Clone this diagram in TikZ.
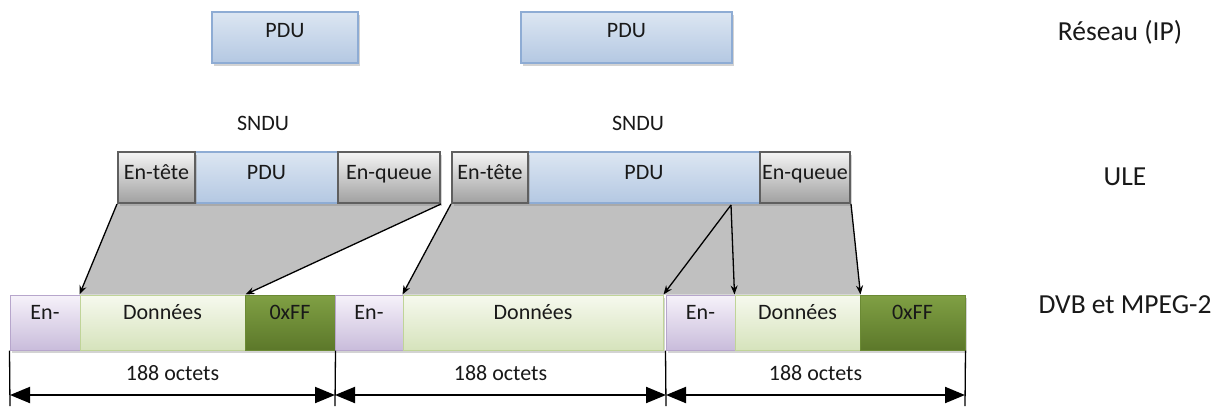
\documentclass[tikz,border=0pt]{standalone}
\usepackage{fontspec}
\setmainfont{Carlito}
\usetikzlibrary{arrows.meta,shadows,backgrounds}

\definecolor{pduTop}{HTML}{DCE6F2}
\definecolor{pduBot}{HTML}{B4C8E2}
\definecolor{pduLine}{HTML}{8EACD4}
\definecolor{hdrTop}{HTML}{F4F4F4}
\definecolor{hdrBot}{HTML}{A0A0A0}
\definecolor{hdrLine}{HTML}{5F5F5F}
\definecolor{enTop}{HTML}{F6F2FA}
\definecolor{enBot}{HTML}{C9BCDB}
\definecolor{enLine}{HTML}{B7A6CC}
\definecolor{donTop}{HTML}{F6F9EE}
\definecolor{donBot}{HTML}{D6E3BC}
\definecolor{donLine}{HTML}{C0D498}
\definecolor{ffTop}{HTML}{80A044}
\definecolor{ffBot}{HTML}{5C782A}
\definecolor{ffLine}{HTML}{6B8A34}
\definecolor{zone}{HTML}{C0C0C0}

\tikzset{
  box/.style={rectangle, inner sep=0pt, font=\fontsize{22}{26}\selectfont, text=black!90,
    drop shadow={shadow xshift=2pt, shadow yshift=-3pt, opacity=0.35}},
  pduTopBox/.style={box, line width=1.3pt, draw=pduLine, top color=pduTop, bottom color=pduBot,
    minimum height=51pt, text height=15pt, text depth=16pt},
  uleRow/.style={minimum height=51pt, text height=15pt, text depth=12pt},
  pduBox/.style={box, uleRow, line width=1.3pt, draw=pduLine, top color=pduTop, bottom color=pduBot},
  hdrBox/.style={box, uleRow, line width=2pt, draw=hdrLine, top color=hdrTop, bottom color=hdrBot},
  dvbRow/.style={minimum height=55pt, text height=15pt, text depth=22pt},
  enBox/.style={box, dvbRow, line width=1pt, draw=enLine, top color=enTop, bottom color=enBot},
  donBox/.style={box, dvbRow, line width=1pt, draw=donLine, top color=donTop, bottom color=donBot},
  ffBox/.style={box, dvbRow, line width=1pt, draw=ffLine, top color=ffTop, bottom color=ffBot},
  caption/.style={inner sep=0pt, font=\fontsize{22}{26}\selectfont, text=black!90},
  layer/.style={inner sep=0pt, font=\fontsize{27.5}{32}\selectfont, text=black!90},
  link/.style={line width=1.3pt, -{Stealth[length=9pt,width=7pt]}},
  dim/.style={line width=2pt, {Triangle[length=20pt,width=16pt]}-{Triangle[length=20pt,width=16pt]}},
  tick/.style={line width=1.3pt}
}

\begin{document}
\begin{tikzpicture}[x=1pt, y=-1pt]
\useasboundingbox (0,0) rectangle (1224,408);
%%%%%%%%%%%%%%%%%%%%%%%%%%%%%%% IP
\node[pduTopBox, minimum width=146pt](pduTopA) at (285,37.5){PDU};
\node[pduTopBox, minimum width=211pt](pduTopB) at (626.5,37.5){PDU};
\node[layer](reseau) at (1120,32){Réseau (IP)};

%%%%%%%%%%%%%%%%%%%%%%%%%%%%%%% ULE
\node[caption](sndu1) at (263,123){SNDU};
\node[caption](sndu2) at (638,123){SNDU};
\node[pduBox, minimum width=143pt](pduA) at (266.5,177.5){PDU};
\node[hdrBox, minimum width=77pt](enteteA) at (156.5,177.5){En-tête};
\node[hdrBox, minimum width=102pt](queueA) at (389,177.5){En-queue};
\node[pduBox, minimum width=232pt](pduB) at (644,177.5){PDU};
\node[hdrBox, minimum width=76pt](enteteB) at (490,177.5){En-tête};
\node[hdrBox, minimum width=90pt](queueB) at (805,177.5){En-queue};
\node[layer](ule) at (1125,177){ULE};

%%%%%%%%%%%%%%%%%%%%%%%%%%%%%%% DVB
\node[enBox, minimum width=70pt](enA) at (45,322.5){En-};
\node[donBox, minimum width=165pt](donA) at (162.5,322.5){Données};
\node[ffBox, minimum width=90pt](ffA) at (290,322.5){0xFF};
\node[enBox, minimum width=68pt](enB) at (369,322.5){En-};
\node[donBox, minimum width=260pt](donB) at (533,322.5){Données};
\node[enBox, minimum width=69pt](enC) at (700.5,322.5){En-};
\node[donBox, minimum width=125pt](donC) at (797.5,322.5){Données};
\node[ffBox, minimum width=105pt](ffC) at (912.5,322.5){0xFF};
\node[layer](dvb) at (1125,305){DVB et MPEG-2};

% zones grises
\begin{scope}[on background layer]
\fill[zone] (enteteA.south west) -- (queueA.south east) -- (donA.north east) -- (donA.north west) -- cycle;
\fill[zone] (enteteB.south west) -- (queueB.south east) -- (donC.north east) -- (donB.north west) -- cycle;
\end{scope}

\coordinate (cut) at (731,205);
\draw[link] (enteteA.south west) -- (donA.north west);
\draw[link] (queueA.south east) -- (donA.north east);
\draw[link] (enteteB.south west) -- (donB.north west);
\draw[link] (cut) -- (donB.north east);
\draw[link] (cut) -- (donC.north west);
\draw[link] (queueB.south east) -- (donC.north east);

%%%%%%%%%%%%%%%%%%%%%%%%%%%%%%% 188 octets
\foreach \n/\x in {A/10, B/335, C/666, D/965}{
  \coordinate (m\n) at (\x,395);
  \coordinate (e\n) at (\x,406);
}
\draw[tick] (enA.south west) -- (eA);
\draw[tick] (ffA.south east) -- (eB);
\draw[tick] (enC.south west) -- (eC);
\draw[tick] (ffC.south east) -- (eD);
\draw[dim] (mA) -- node[caption, above=13pt]{188 octets} (mB);
\draw[dim] (mB) -- node[caption, above=13pt]{188 octets} (mC);
\draw[dim] (mC) -- node[caption, above=13pt]{188 octets} (mD);
\end{tikzpicture}
\end{document}
